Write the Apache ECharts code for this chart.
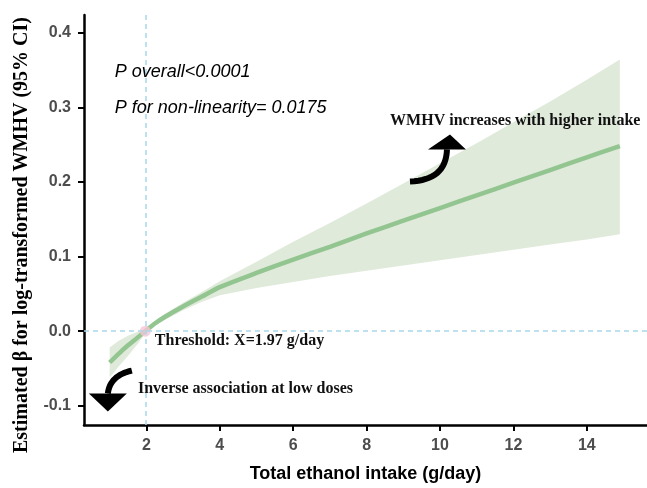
<!DOCTYPE html>
<html>
<head>
<meta charset="utf-8">
<script src="https://cdn.jsdelivr.net/npm/echarts@6/dist/echarts.min.js"></script>
<style>
html,body{margin:0;padding:0;background:#fff;}
#chart{width:647px;height:488px;}
</style>
</head>
<body>
<div id="chart"></div>
<script>
// ---- data ----
const xVals    = [1.0, 1.25, 1.5, 1.75, 1.97, 2.25, 2.5, 3, 3.5, 4, 5, 6, 7, 8, 9, 10, 11, 12, 13, 14, 14.9];
const estimate = [-0.042, -0.030, -0.019, -0.009, 0, 0.011, 0.019, 0.033, 0.046, 0.059, 0.078, 0.096, 0.113, 0.131, 0.148, 0.165, 0.182, 0.199, 0.216, 0.233, 0.248];
const upperCI  = [-0.022, -0.013, -0.006, -0.001, 0.003, 0.014, 0.023, 0.038, 0.052, 0.067, 0.093, 0.120, 0.145, 0.171, 0.198, 0.225, 0.252, 0.280, 0.308, 0.337, 0.364];
const lowerCI  = [-0.062, -0.047, -0.033, -0.018, -0.003, 0.008, 0.015, 0.028, 0.039, 0.048, 0.058, 0.066, 0.074, 0.081, 0.088, 0.095, 0.102, 0.109, 0.116, 0.123, 0.130];
const threshold = [1.97, 0];
const xTicks = [2, 4, 6, 8, 10, 12, 14];
const yTicks = [-0.1, 0, 0.1, 0.2, 0.3, 0.4];
const xTitle = 'Total ethanol intake (g/day)';
const yTitle = 'Estimated \u03b2 for log-transformed WMHV (95% CI)';
const pOverall = 'P overall<0.0001';
const pNonlin = 'P for non-linearity= 0.0175';
const noteUp = 'WMHV increases with higher intake';
const noteThreshold = 'Threshold: X=1.97 g/day';
const noteDown = 'Inverse association at low doses';

const bandRows = xVals.map((x, i) => [x, lowerCI[i], upperCI[i]]);
const estPts   = xVals.map((x, i) => [x, estimate[i]]);

const chart = echarts.init(document.getElementById('chart'), null, {renderer: 'canvas'});

const tickLabelStyle = {color: '#4d4d4d', fontFamily: 'Liberation Sans, Arial, sans-serif', fontWeight: 'bold', fontSize: 16};

function renderBand(params, api) {
  if (params.dataIndex !== 0) return null;
  const top = bandRows.map(r => api.coord([r[0], r[2]]));
  const bot = bandRows.slice().reverse().map(r => api.coord([r[0], r[1]]));
  return {type: 'polygon', shape: {points: top.concat(bot)}, style: {fill: '#dfeada'}};
}

chart.setOption({
  animation: false,
  backgroundColor: '#ffffff',
  grid: {left: 84, right: 0, top: 15, bottom: 58, containLabel: false},
  xAxis: {
    type: 'value', min: 0.3, max: 15.64,
    splitLine: {show: false},
    axisLine: {show: true, onZero: false, lineStyle: {color: '#000', width: 2.5}},
    axisTick: {show: true, length: 6, lineStyle: {color: '#000', width: 2}, customValues: xTicks},
    axisLabel: Object.assign({margin: 13, customValues: xTicks, formatter: v => String(v)}, tickLabelStyle),
    name: xTitle, nameLocation: 'middle', nameGap: 40,
    nameTextStyle: {color: '#000', fontFamily: 'Liberation Sans, Arial, sans-serif', fontWeight: 'bold', fontSize: 18}
  },
  yAxis: {
    type: 'value', min: -0.1258, max: 0.4238,
    splitLine: {show: false},
    axisLine: {show: true, onZero: false, lineStyle: {color: '#000', width: 2.5}},
    axisTick: {show: true, length: 6, lineStyle: {color: '#000', width: 2}, customValues: yTicks},
    axisLabel: Object.assign({margin: 13, customValues: yTicks, formatter: v => Number(v).toFixed(1)}, tickLabelStyle)
  },
  series: [
    {
      name: 'band', type: 'custom', data: bandRows, renderItem: renderBand,
      encode: {x: 0, y: [1, 2]}, silent: true, z: 1
    },
    {
      name: 'estimate', type: 'line', data: estPts, symbol: 'none', smooth: 0.3, z: 3,
      lineStyle: {color: '#93c590', width: 4.5},
      markLine: {
        silent: true, symbol: 'none', label: {show: false},
        lineStyle: {color: '#a9d7ec', type: [5, 4], width: 1.5},
        data: [{xAxis: threshold[0]}, {yAxis: threshold[1]}]
      }
    },
    {
      name: 'threshold', type: 'scatter', data: [threshold], symbolSize: 11, z: 4,
      itemStyle: {color: '#f7c4d4'}
    }
  ]
});

function px(x, y) { return chart.convertToPixel({gridIndex: 0}, [x, y]); }
// quadratic curve sampled as a polyline (arrow shaft shape)
function quad(p0, c, p1) {
  const pts = [];
  for (let k = 0; k <= 16; k++) {
    const t = k / 16, u = 1 - t;
    pts.push([u * u * p0[0] + 2 * u * t * c[0] + t * t * p1[0], u * u * p0[1] + 2 * u * t * c[1] + t * t * p1[1]]);
  }
  return pts;
}

const serif = 'Liberation Serif, Times New Roman, serif';
const sans = 'Liberation Sans, Arial, sans-serif';

const pOv = px(1.14, 0.347), pNl = px(1.14, 0.299);
const up = px(8.64, 0.282), th = px(2.23, -0.013), dn = px(1.77, -0.078);
const arrUp = px(10.19, 0.245), arrDn = px(0.95, -0.085);

chart.setOption({
  graphic: [
    {type: 'text', x: 22, y: 235, rotation: Math.PI / 2, z: 100,
      style: {text: yTitle, fill: '#000', font: 'bold 20px ' + serif, align: 'center', verticalAlign: 'middle'}},
    {type: 'text', x: pOv[0], y: pOv[1], z: 100, style: {text: pOverall, fill: '#000', font: 'italic 18px ' + sans, verticalAlign: 'middle'}},
    {type: 'text', x: pNl[0], y: pNl[1], z: 100, style: {text: pNonlin, fill: '#000', font: 'italic 18px ' + sans, verticalAlign: 'middle'}},
    {type: 'text', x: up[0], y: up[1], z: 100, style: {text: noteUp, fill: '#111', font: 'bold 16px ' + serif, verticalAlign: 'middle'}},
    {type: 'text', x: th[0], y: th[1], z: 100, style: {text: noteThreshold, fill: '#111', font: 'bold 16px ' + serif, verticalAlign: 'middle'}},
    {type: 'text', x: dn[0], y: dn[1], z: 100, style: {text: noteDown, fill: '#111', font: 'bold 16px ' + serif, verticalAlign: 'middle'}},
    {type: 'group', x: arrUp[0], y: arrUp[1], children: [
      {type: 'polyline', z: 100, shape: {points: quad([-37, 33], [-1, 32], [0, 1])}, style: {stroke: '#000', lineWidth: 6, fill: null}},
      {type: 'polygon', z: 100, shape: {points: [[-19, 1], [19, 1], [3, -14]]}, style: {fill: '#000'}}
    ]},
    {type: 'group', x: arrDn[0], y: arrDn[1], children: [
      {type: 'polyline', z: 100, shape: {points: quad([24, -24], [2, -19], [0, -1])}, style: {stroke: '#000', lineWidth: 6, fill: null}},
      {type: 'polygon', z: 100, shape: {points: [[-19, -1], [19, -1], [0, 17]]}, style: {fill: '#000'}}
    ]}
  ]
});
</script>
</body>
</html>
